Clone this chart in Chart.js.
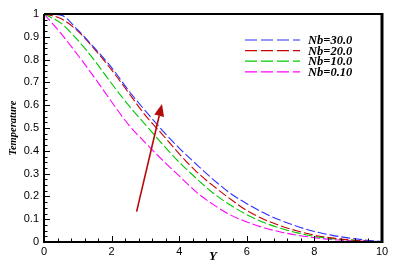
<!DOCTYPE html>
<html>
<head>
<meta charset="utf-8">
<script src="https://cdn.jsdelivr.net/npm/chart.js@4.4.1/dist/chart.umd.min.js"></script>
<style>
    html, body { margin: 0; padding: 0; background: #fff; }
    #chart_wrap { width: 395px; height: 265px; position: relative; }
</style>
</head>
<body>
<div id="chart_wrap"><canvas id="chart_temp"></canvas></div>
<script>
// Chart values
var arrY = [0, 0.5, 1, 1.5, 2, 2.5, 3, 3.5, 4, 4.5, 5, 5.5, 6, 6.5, 7, 7.5, 8, 8.5, 9, 9.5, 10];
var arrNb30 = [1.0, 0.995, 0.93, 0.85, 0.765, 0.665, 0.575, 0.49, 0.412, 0.342, 0.275, 0.215, 0.168, 0.128, 0.095, 0.068, 0.046, 0.03, 0.018, 0.009, 0.002];
var arrNb20 = [1.0, 0.98, 0.925, 0.845, 0.755, 0.655, 0.555, 0.472, 0.387, 0.31, 0.247, 0.19, 0.138, 0.1, 0.071, 0.048, 0.03, 0.018, 0.01, 0.005, 0.001];
var arrNb10 = [1.0, 0.96, 0.885, 0.795, 0.695, 0.6, 0.515, 0.43, 0.35, 0.28, 0.215, 0.163, 0.12, 0.086, 0.06, 0.04, 0.025, 0.015, 0.009, 0.004, 0.001];
var arrNb01 = [1.0, 0.915, 0.82, 0.72, 0.615, 0.515, 0.435, 0.36, 0.29, 0.22, 0.165, 0.12, 0.088, 0.063, 0.044, 0.03, 0.019, 0.011, 0.006, 0.003, 0.0];

var arrLabels = ["Nb=30.0", "Nb=20.0", "Nb=10.0", "Nb=0.10"];
var arrColors = ["#2f2fff", "#c80000", "#00c800", "#ff00ff"];

var arrXTicks = [0, 2, 4, 6, 8, 10];
var arrYTicks = [0, 0.1, 0.2, 0.3, 0.4, 0.5, 0.6, 0.7, 0.8, 0.9, 1];

// arrow (data coords): tail, tip
var arrArrow = [[2.74, 0.133], [3.49, 0.605]];

function toPoints(arrValues) {
    return arrValues.map(function(v, i) { return { x: arrY[i], y: v }; });
}

// frame, inner ticks, legend and arrow
var framePlugin = {
    id: 'frame',
    afterDraw: function(chart) {
        var ctx = chart.ctx;
        var area = chart.chartArea;
        var sx = chart.scales.x;
        var sy = chart.scales.y;
        var i, v, p;

        ctx.save();
        ctx.strokeStyle = '#000';

        // ticks
        ctx.lineWidth = 1;
        ctx.beginPath();
        for (v = 0; v <= 10.001; v += 0.4) {
            p = Math.round(sx.getPixelForValue(v)) + 0.5;
            var isMajor = Math.abs(v / 2 - Math.round(v / 2)) < 0.01;
            ctx.moveTo(p, area.bottom);
            ctx.lineTo(p, area.bottom - (isMajor ? 6 : 3.5));
        }
        for (i = 0; i <= 40; i++) {
            p = Math.round(sy.getPixelForValue(i * 0.025)) + 0.5;
            ctx.moveTo(area.left, p);
            ctx.lineTo(area.left + (i % 4 === 0 ? 6 : 3.5), p);
        }
        ctx.stroke();

        // border
        ctx.lineWidth = 2;
        ctx.beginPath();
        ctx.moveTo(area.left, area.top);
        ctx.lineTo(area.right, area.top);
        ctx.moveTo(area.left, area.top);
        ctx.lineTo(area.left, area.bottom);
        ctx.lineTo(area.right, area.bottom);
        ctx.stroke();
        ctx.lineWidth = 3;
        ctx.beginPath();
        ctx.moveTo(area.right, area.top - 1);
        ctx.lineTo(area.right, area.bottom + 1);
        ctx.stroke();

        // legend
        ctx.font = 'italic bold 12.5px "Liberation Serif", "Times New Roman", serif';
        ctx.textBaseline = 'middle';
        ctx.textAlign = 'left';
        ctx.lineWidth = 1.2;
        ctx.setLineDash([12, 4]);
        for (i = 0; i < arrLabels.length; i++) {
            var yy = 40 + i * 10.6;
            ctx.strokeStyle = arrColors[i];
            ctx.beginPath();
            ctx.moveTo(245, yy);
            ctx.lineTo(300, yy);
            ctx.stroke();
            ctx.fillStyle = '#000';
            ctx.fillText(arrLabels[i], 308, yy + 1);
        }
        ctx.setLineDash([]);

        // arrow
        var x0 = sx.getPixelForValue(arrArrow[0][0]);
        var y0 = sy.getPixelForValue(arrArrow[0][1]);
        var x1 = sx.getPixelForValue(arrArrow[1][0]);
        var y1 = sy.getPixelForValue(arrArrow[1][1]);
        var ang = Math.atan2(y1 - y0, x1 - x0);
        var headLen = 12, headW = 5;
        var bx = x1 - headLen * Math.cos(ang);
        var by = y1 - headLen * Math.sin(ang);
        ctx.strokeStyle = '#b40a0a';
        ctx.fillStyle = '#b40a0a';
        ctx.lineWidth = 1.6;
        ctx.beginPath();
        ctx.moveTo(x0, y0);
        ctx.lineTo(bx, by);
        ctx.stroke();
        ctx.beginPath();
        ctx.moveTo(x1, y1);
        ctx.lineTo(bx + headW * Math.sin(ang), by - headW * Math.cos(ang));
        ctx.lineTo(bx - headW * Math.sin(ang), by + headW * Math.cos(ang));
        ctx.closePath();
        ctx.fill();

        ctx.restore();
    }
};

function draw_chart() {
    // Get Chart Data
    var arrSeries = [arrNb30, arrNb20, arrNb10, arrNb01];
    var objData = {
        datasets: arrSeries.map(function(s, i) {
            return {
                label: arrLabels[i],
                data: toPoints(s),
                borderColor: arrColors[i],
                borderWidth: 1.1,
                borderDash: [9, 3],
                pointRadius: 0,
                fill: false,
                cubicInterpolationMode: 'monotone'
            };
        })
    };

    var tickFont = { family: '"Liberation Sans", Arial, sans-serif', size: 11 };
    var titleFont = { family: '"Liberation Serif", "Times New Roman", serif', style: 'italic', weight: 'bold' };

    // Config Options
    var objOptions = {
        responsive: true,
        maintainAspectRatio: false,
        animation: false,
        layout: { padding: { top: 14, right: 13, left: 0, bottom: 0 } },
        plugins: { legend: { display: false }, tooltip: { enabled: false } },
        scales: {
            x: {
                type: 'linear',
                min: 0,
                max: 10,
                afterFit: function(s) { s.height = 23; },
                afterBuildTicks: function(s) { s.ticks = arrXTicks.map(function(v) { return { value: v }; }); },
                grid: { display: false, drawTicks: false },
                border: { display: false },
                ticks: { font: tickFont, color: '#000', padding: 3, maxRotation: 0 },
                title: { display: true, text: 'Y', color: '#000', font: Object.assign({ size: 13 }, titleFont), padding: { top: 0, bottom: 1 } }
            },
            y: {
                type: 'linear',
                min: 0,
                max: 1,
                afterFit: function(s) { s.width = 44; },
                afterBuildTicks: function(s) { s.ticks = arrYTicks.map(function(v) { return { value: v }; }); },
                grid: { display: false, drawTicks: false },
                border: { display: false },
                ticks: {
                    font: tickFont,
                    color: '#000',
                    padding: 5,
                    callback: function(v) { return String(+v.toFixed(1)); }
                },
                title: { display: true, text: 'Temperature', color: '#000', font: Object.assign({ size: 10.5 }, titleFont), padding: { top: 7, bottom: 0 } }
            }
        }
    };

    // Draw Chart
    var elChart = document.getElementById('chart_temp');
    var objChart = new Chart(elChart, {
        type: 'line',
        data: objData,
        options: objOptions,
        plugins: [framePlugin]
    });
}

draw_chart();
</script>
</body>
</html>
